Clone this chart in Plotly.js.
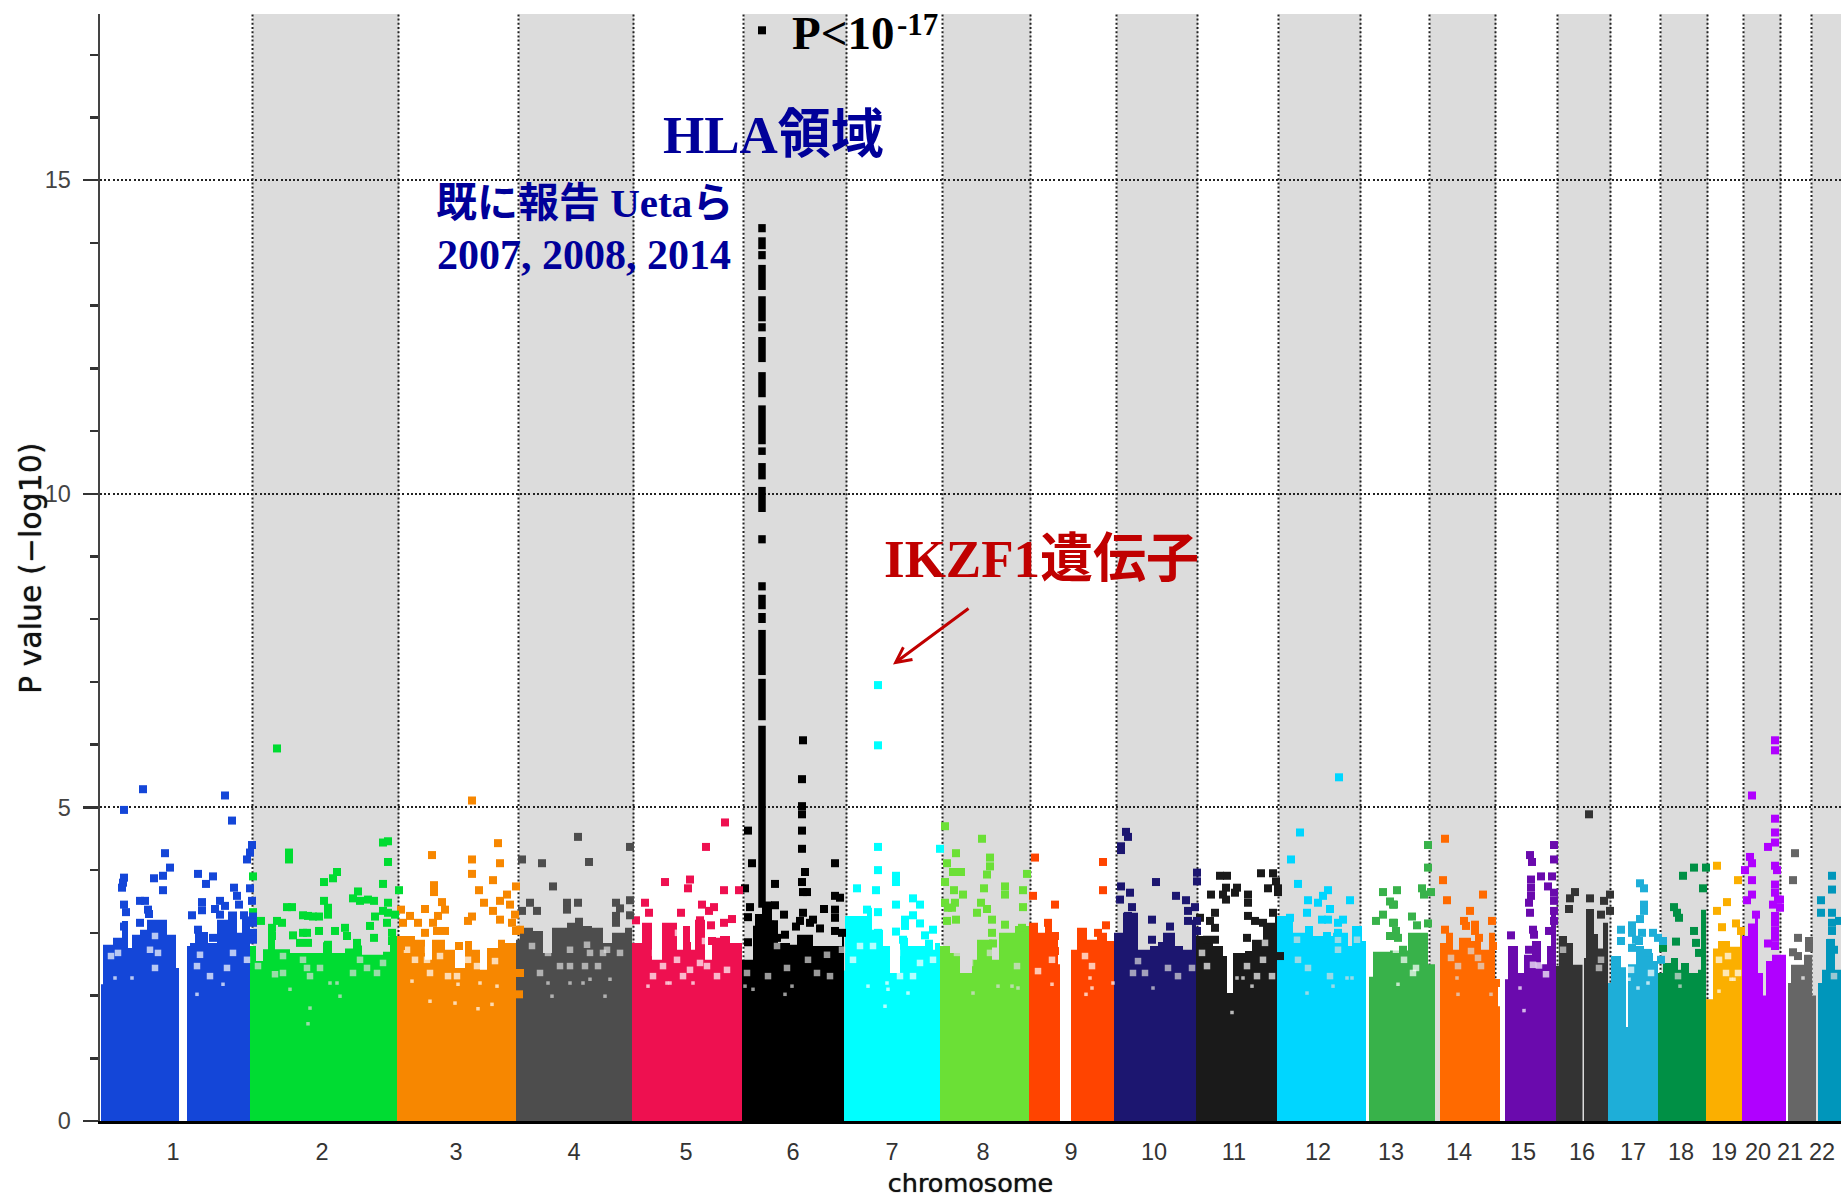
<!DOCTYPE html>
<html><head><meta charset="utf-8">
<script src="https://cdn.plot.ly/plotly-3.0.1.min.js"></script>
<style>html,body{margin:0;padding:0;background:#fff}#chart{width:1841px;height:1198px}</style>
</head><body><div id="chart"></div>
<script>
const chrLabels=['1','2','3','4','5','6','7','8','9','10','11','12','13','14','15','16','17','18','19','20','21','22'];
const chrLabelPos=[73,222,356,474,586,693,792,883,971,1054,1134,1218,1291,1359,1423,1482,1533,1581,1624,1658,1690,1722];
const chrColors=['#1446d8','#00dc32','#f78700','#4d4d4d','#ee1050','#000000','#00ffff','#6be036','#ff4400','#1c1670','#1a1a1a','#00d6ff','#38b24a','#ff6a00','#6a0aad','#333333','#1eaed8','#009045','#fbaf00','#b000ff','#666666','#0096bb'];
const bandStart=[153,419,644,843,1017,1179,1330,1458,1561,1644,1712];
const bandEnd=[299,534,747,931,1098,1261,1396,1511,1608,1681,1741];

const chr1_sky=[[1,2.18],[3,2.81],[13,2.92],[22,3.19],[28,2.76],[32,2.97],[40,3.05],[47,3.21],[67,2.97],[76,2.44],[79,0],[87,2.79],[90,2.84],[95,3.11],[102,3.0],[108,2.84],[117,3.21],[128,3.34],[137,3.0],[142,3.26],[150,3.26]];
const chr1_holes=[[11,2.63],[18,2.68],[15,2.28],[32,2.28],[55,2.95],[50,2.73],[58,2.68],[55,2.44],[97,2.47],[100,2.65],[110,2.31],[123,2.18],[127,2.44],[133,2.68],[97,2.02],[147,2.57]];
const chr1_pts=[[24,4.96],[43,5.29],[125,5.19],[132,4.79],[65,4.27],[70,4.04],[63,3.91],[54,3.87],[63,3.68],[24,3.88],[23,3.80],[22,3.72],[24,3.45],[26,3.33],[40,3.51],[45,3.51],[48,3.37],[49,3.30],[40,3.16],[98,3.94],[106,3.78],[113,3.90],[92,3.28],[102,3.49],[102,3.36],[120,3.51],[115,3.38],[125,3.43],[120,3.29],[134,3.72],[137,3.59],[139,3.45],[152,4.40],[150,4.28],[147,4.17],[150,3.71],[152,3.51],[144,3.28],[24,3.10],[113,2.92],[98,3.05],[104,2.95],[153,3.26],[153,3.16],[153,3.0],[153,2.89]];

const chr2_sky=[[150,2.79],[156,2.55],[163,2.74],[168,3.1],[175,2.74],[190,2.68],[223,2.85],[232,2.68],[245,2.75],[253,2.8],[262,2.65],[283,2.7],[290,2.95],[297,2.95]];
const chr2_holes=[[175,2.34],[183,2.36],[190,2.10],[207,2.44],[210,2.31],[210,1.80],[208,1.55],[220,2.44],[237,2.2],[253,2.36],[267,2.44],[277,2.36],[283,2.52],[158,2.47],[203,2.57],[260,2.57],[183,2.63],[230,2.2],[240,1.99]];
const chr2_pts=[[177,5.94],[189,4.28],[189,4.17],[153,3.90],[224,3.81],[233,3.87],[237,3.97],[283,4.44],[288,4.46],[288,4.13],[283,3.78],[299,3.68],[153,3.33],[161,3.19],[187,3.41],[192,3.41],[203,3.28],[208,3.27],[213,3.26],[219,3.26],[224,3.51],[228,3.40],[228,3.29],[258,3.66],[253,3.55],[260,3.51],[268,3.53],[274,3.51],[288,3.48],[283,3.35],[288,3.32],[295,3.29],[275,3.26],[270,3.11],[287,3.16],[177,3.19],[182,3.16],[172,3.08],[172,2.95],[193,2.96],[203,3.0],[207,3.0],[219,3.03],[235,3.03],[245,3.08],[247,2.95],[274,2.92],[292,3.0],[292,2.87],[200,2.84],[208,2.84],[228,2.81],[257,2.84]];

const chr3_sky=[[297,2.95],[315,2.89],[325,2.57],[332,2.89],[345,2.73],[355,2.44],[365,2.87],[372,2.73],[380,2.41],[387,2.76],[398,2.89],[405,2.84],[416,2.84]];
const chr3_holes=[[328,2.73],[327,2.57],[312,2.23],[330,2.36],[330,1.91],[340,2.63],[348,2.31],[357,2.31],[358,2.18],[355,1.88],[377,2.47],[380,2.2],[395,2.55],[397,2.15],[307,2.73],[315,2.57],[368,2.57],[392,1.86],[378,1.79]];
const chr3_pts=[[372,5.11],[332,4.24],[398,4.43],[372,4.17],[400,4.11],[372,3.94],[393,3.84],[334,3.76],[334,3.65],[379,3.68],[416,3.74],[407,3.61],[400,3.51],[410,3.45],[342,3.49],[345,3.37],[384,3.48],[325,3.38],[393,3.35],[301,3.37],[310,3.27],[303,3.16],[318,3.16],[338,3.27],[333,3.16],[337,3.03],[345,3.03],[325,3.0],[372,3.26],[368,3.19],[400,3.21],[415,3.29],[412,3.16],[416,3.03],[359,2.79],[420,3.05],[420,2.36],[419,2.02],[301,2.79]];

const chr4_sky=[[416,2.89],[420,3.08],[433,3.03],[443,2.68],[452,3.08],[467,3.16],[475,3.24],[483,3.11],[492,3.08],[503,2.84],[512,3.0],[525,3.08],[532,3.08]];
const chr4_holes=[[448,2.68],[448,2.2],[452,1.99],[470,2.2],[470,2.73],[470,2.47],[487,2.81],[490,2.68],[490,2.26],[503,2.68],[510,2.26],[505,1.99],[507,2.73],[485,2.47],[432,2.79],[440,2.36],[460,2.47],[483,2.2],[498,2.47],[520,2.68]];
const chr4_pts=[[478,4.53],[530,4.37],[422,4.17],[442,4.11],[489,4.13],[453,3.74],[430,3.48],[437,3.35],[422,3.35],[467,3.48],[467,3.37],[478,3.48],[516,3.48],[520,3.39],[530,3.52],[516,3.27],[516,3.16],[530,3.28]];

const chr5_sky=[[532,2.84],[542,3.16],[552,2.57],[562,3.16],[577,2.73],[583,3.11],[590,2.73],[595,3.21],[605,2.57],[612,2.92],[620,2.95],[630,2.84],[642,2.84]];
const chr5_holes=[[555,2.68],[553,2.31],[563,2.47],[567,2.2],[577,2.57],[583,2.31],[590,2.41],[600,2.52],[617,2.31],[627,2.41],[570,2.2],[548,2.15],[593,2.2],[607,2.47],[578,3.0],[558,2.79],[605,2.87]];
const chr5_pts=[[625,4.76],[606,4.37],[565,3.81],[590,3.85],[588,3.71],[624,3.68],[639,3.68],[545,3.48],[549,3.32],[581,3.32],[602,3.45],[614,3.41],[609,3.35],[536,3.2],[632,3.22],[624,3.16],[611,3.12],[600,3.2],[612,2.87],[587,2.79]];

const chr6_sky=[[642,2.57],[653,3.05],[655,3.3],[662,3.5],[672,3.2],[678,2.84],[690,2.81],[697,2.97],[713,2.79],[742,3.0],[744,3.0]];
const chr6_holes=[[648,2.68],[647,2.36],[668,2.31],[687,2.44],[692,2.15],[685,2.02],[708,2.57],[730,2.31],[677,2.79],[645,2.15],[653,2.1],[717,2.36],[727,2.65],[742,2.73]];
const chr6_pts=[[662,17.39],[703,6.07],[702,5.45],[702,5.02],[702,4.89],[702,4.63],[702,4.34],[648,4.63],[652,4.11],[735,4.11],[705,3.97],[675,3.78],[702,3.81],[645,3.71],[703,3.65],[707,3.65],[735,3.59],[740,3.56],[650,3.41],[675,3.44],[724,3.38],[735,3.37],[735,3.24],[684,3.29],[703,3.32],[700,3.19],[713,3.21],[710,3.16],[720,3.07],[696,3.1],[648,3.25],[657,3.05],[670,3.13],[735,3.03],[742,3.0],[648,2.85],[677,2.92],[685,2.97]];
const hlaPos=662;
const hlaHigh=[14.30,14.09,13.87,13.65,13.15,12.72,12.50,11.94,11.41,10.74,10.49,10.11,9.34,8.59,8.39,8.10,7.83,7.05,6.30];
const hlaLow=[14.17,13.90,13.74,13.25,12.75,12.59,12.10,11.54,10.79,10.62,10.23,9.71,9.21,8.46,8.16,7.94,7.11,6.39,3.40];

const chr7_sky=[[744,2.4],[745,3.27],[767,3.4],[772,3.05],[783,2.79],[790,2.36],[800,2.92],[808,2.79],[825,2.89],[833,2.73],[835,2.84],[840,2.84]];
const chr7_holes=[[753,2.57],[768,2.15],[787,2.2],[785,1.83],[808,2.04],[788,2.1],[760,2.79],[773,2.79],[813,2.31],[797,2.68],[820,2.52],[800,2.31],[833,2.57]];
const chr7_pts=[[778,6.95],[778,5.99],[778,4.37],[840,4.34],[778,4.0],[757,3.71],[776,3.68],[796,3.91],[796,3.81],[796,3.45],[813,3.55],[820,3.45],[813,3.28],[778,3.33],[767,3.37],[820,3.15],[805,3.21],[805,3.11],[833,3.05],[825,2.96],[796,3.02],[803,2.89],[805,2.68],[778,3.0]];

const chr8_sky=[[840,2.79],[850,2.68],[860,2.36],[872,2.57],[877,2.89],[892,2.57],[899,3.0],[915,3.11],[929,3.11]];
const chr8_holes=[[873,2.04],[898,2.15],[917,2.47],[912,2.15],[918,2.12],[870,2.52],[890,2.68],[857,2.68]];
const chr8_pts=[[882,4.50],[856,4.27],[890,4.20],[890,4.06],[887,3.93],[853,3.97],[861,3.97],[927,3.94],[854,3.68],[863,3.61],[884,3.71],[905,3.74],[905,3.61],[923,3.68],[923,3.41],[855,3.48],[852,3.40],[881,3.48],[877,3.32],[887,3.38],[892,3.21],[856,3.21],[905,3.13],[892,3.0],[893,2.83],[922,3.08],[905,2.79],[845,4.70],[847,4.11],[845,3.81],[845,3.48],[848,3.40],[847,3.19]];

const chr9_sky=[[929,3.16],[938,3.0],[945,3.21],[952,3.0],[958,2.5],[960,0],[971,2.73],[977,3.08],[987,2.89],[997,3.0],[1007,2.87],[1014,2.87]];
const chr9_holes=[[985,2.63],[992,2.47],[990,2.28],[992,2.12],[986,2.02],[1013,2.2],[938,2.39],[952,2.18],[952,2.57]];
const chr9_pts=[[935,4.20],[1003,4.13],[1003,3.68],[933,3.59],[955,3.45],[948,3.16],[1006,3.12],[955,2.95],[955,2.71],[998,3.0]];

const chr10_sky=[[1014,3.0],[1023,3.32],[1038,2.73],[1050,2.79],[1063,3.0],[1075,2.79],[1083,2.73],[1092,3.21],[1096,3.21]];
const chr10_holes=[[1038,2.55],[1033,2.36],[1045,2.36],[1053,2.12],[1068,2.44],[1078,2.31],[1092,2.44]];
const chr10_pts=[[1026,4.61],[1028,4.53],[1021,4.38],[1021,4.32],[1056,3.81],[1097,3.96],[1097,3.82],[1021,3.74],[1030,3.64],[1020,3.53],[1076,3.59],[1086,3.52],[1088,3.35],[1095,3.41],[1032,3.41],[1028,3.27],[1052,3.21],[1088,3.19],[1097,3.19],[1097,3.03],[1070,3.10],[1052,2.89],[1062,2.79]];

const chr11_sky=[[1096,2.95],[1113,2.79],[1123,2.63],[1127,2.04],[1133,2.68],[1145,2.71],[1152,2.89],[1163,3.16],[1175,3.27],[1177,3.27]];
const chr11_holes=[[1102,2.68],[1107,2.47],[1147,2.47],[1143,2.28],[1152,2.15],[1157,2.31],[1172,2.31],[1137,2.28],[1132,1.73],[1165,2.84],[1157,3.05],[1163,2.57]];
const chr11_pts=[[1120,3.91],[1127,3.91],[1161,3.95],[1173,3.95],[1176,3.82],[1168,3.71],[1178,3.71],[1178,3.65],[1111,3.61],[1126,3.72],[1123,3.61],[1126,3.53],[1137,3.72],[1135,3.64],[1148,3.61],[1148,3.48],[1115,3.32],[1110,3.19],[1115,3.08],[1100,3.24],[1173,3.32],[1148,3.27],[1155,3.19],[1163,3.16],[1147,2.92],[1107,2.89],[1115,2.89],[1180,2.63]];

const chr12_sky=[[1177,3.27],[1193,3.0],[1205,3.11],[1213,2.95],[1233,3.0],[1248,2.79],[1252,3.11],[1262,2.87],[1266,2.87]];
const chr12_holes=[[1198,2.57],[1208,2.44],[1207,2.04],[1230,2.31],[1233,2.15],[1247,2.28],[1252,2.28],[1217,3.03],[1238,2.89],[1238,2.73],[1257,2.89],[1197,2.89]];
const chr12_pts=[[1239,5.48],[1200,4.60],[1191,4.17],[1198,3.78],[1228,3.68],[1223,3.59],[1218,3.48],[1208,3.52],[1250,3.52],[1230,3.38],[1207,3.32],[1222,3.21],[1228,3.21],[1243,3.21],[1238,3.16],[1190,3.24],[1238,3.0],[1227,2.95]];

const chr13_sky=[[1269,2.3],[1273,2.7],[1290,2.72],[1308,3.0],[1328,2.5],[1335,2.5]];
const chr13_holes=[[1298,2.18],[1304,2.57],[1313,2.36],[1316,2.44],[1296,2.73]];
const chr13_pts=[[1328,4.40],[1328,4.04],[1297,3.68],[1322,3.71],[1324,3.61],[1331,3.65],[1294,3.45],[1312,3.26],[1317,3.12],[1328,3.15],[1294,3.16],[1296,3.03],[1298,2.92],[1283,3.65],[1290,3.5],[1293,3.45],[1283,3.29],[1276,3.19],[1293,3.16],[1290,2.95],[1303,2.73]];

const chr14_sky=[[1340,2.84],[1346,3.0],[1353,2.73],[1359,2.92],[1371,2.87],[1381,2.73],[1389,3.0],[1395,2.26],[1398,1.83],[1400,1.83]];
const chr14_holes=[[1357,2.28],[1358,2.02],[1391,2.02],[1371,2.71],[1378,2.6],[1351,2.6],[1358,2.47],[1381,2.47]];
const chr14_pts=[[1345,4.50],[1343,3.84],[1347,3.52],[1383,3.61],[1370,3.35],[1364,3.19],[1366,3.11],[1375,3.13],[1375,3.03],[1379,2.92],[1392,3.19],[1345,3.05],[1393,2.79],[1396,2.2]];

const chr15_sky=[[1405,2.26],[1408,2.79],[1418,2.36],[1424,2.65],[1432,2.87],[1441,2.5],[1447,2.79],[1451,3.3],[1456,3.3]];
const chr15_holes=[[1433,2.49],[1439,2.48],[1446,2.34],[1424,1.76],[1420,2.12]];
const chr15_pts=[[1454,4.40],[1454,4.17],[1430,4.24],[1432,4.13],[1441,3.90],[1452,3.90],[1431,3.85],[1431,3.72],[1431,3.59],[1429,3.48],[1430,3.32],[1448,3.74],[1454,3.64],[1454,3.51],[1433,3.05],[1434,2.97],[1449,3.03],[1411,2.96],[1429,2.73],[1454,3.19],[1454,3.35]];

const chr16_sky=[[1456,2.47],[1459,2.95],[1467,2.84],[1473,2.49],[1482.5,0],[1484,2.6],[1486,3.38],[1494,2.98],[1498,2.75],[1503,3.16],[1508,3.16]];
const chr16_holes=[[1463,2.73],[1499,2.44],[1501,2.57]];
const chr16_pts=[[1489,4.89],[1475,3.65],[1470,3.55],[1469,3.38],[1490,3.55],[1510,3.61],[1504,3.51],[1510,3.35],[1501,3.29]];

const chr17_sky=[[1508,2.2],[1511,2.63],[1521,2.45],[1526,1.5],[1528,2.5],[1536,2.79],[1544,2.68],[1553,2.55],[1558,2.55]];
const chr17_holes=[[1529,2.26],[1548,2.2],[1538,2.12],[1551,2.36],[1531,2.41]];
const chr17_pts=[[1521,3.05],[1521,2.87],[1540,3.79],[1544,3.71],[1544,3.45],[1544,3.35],[1540,3.22],[1532,3.12],[1532,3.0],[1536,2.89],[1532,2.76],[1542,3.0],[1553,3.0],[1558,2.92],[1563,2.87],[1539,2.87],[1548,2.68],[1561,2.57]];

const chr18_sky=[[1558,2.36],[1563,2.52],[1571,2.6],[1578,2.41],[1581,2.52],[1589,2.36],[1598,2.41],[1601,3.37],[1606,3.37]];
const chr18_holes=[[1578,2.31],[1580,2.15]];
const chr18_pts=[[1594,4.04],[1606,4.04],[1583,3.91],[1603,3.71],[1574,3.41],[1577,3.32],[1579,3.24],[1576,2.86],[1594,3.03],[1596,2.84],[1599,2.68],[1563,2.76]];

const chr19_sky=[[1606,1.94],[1613,2.75],[1618,2.87],[1630,2.78],[1640,3.05],[1642,3.05]];
const chr19_holes=[[1619,2.57],[1626,2.36],[1628,2.63],[1631,2.26],[1638,2.36],[1619,2.07],[1634,2.26]];
const chr19_pts=[[1617,4.07],[1638,3.84],[1627,3.49],[1617,3.35],[1622,3.09],[1636,3.15],[1641,3.03]];

const chr20_sky=[[1642,2.95],[1648,3.15],[1655,3.3],[1658,2.36],[1663,2.0],[1666,2.55],[1672,2.65],[1680,2.65],[1686,2.65]];
const chr20_holes=[];
const chr20_pts=[[1675,6.07],[1675,5.91],[1652,5.19],[1675,4.82],[1675,4.60],[1675,4.44],[1668,4.37],[1650,4.21],[1652,4.11],[1645,4.0],[1675,4.07],[1677,4.0],[1652,3.84],[1652,3.61],[1647,3.52],[1675,3.77],[1675,3.64],[1678,3.53],[1680,3.53],[1680,3.40],[1673,3.45],[1675,3.27],[1675,3.16],[1675,3.03],[1675,2.92],[1668,2.83],[1675,2.79],[1656,3.29]];

const chr21_sky=[[1688,2.2],[1691,2.49],[1704,2.65],[1712,2.0],[1716,2.0]];
const chr21_holes=[[1703,2.28]];
const chr21_pts=[[1695,4.27],[1693,3.84],[1698,2.92],[1693,2.69],[1698,2.63],[1709,2.87],[1709,2.76]];

const chr22_sky=[[1718,2.2],[1722,2.41],[1726,2.9],[1735,2.41],[1741,2.41]];
const chr22_holes=[[1734,2.31]];
const chr22_pts=[[1732,3.91],[1732,3.69],[1721,3.52],[1721,3.32],[1732,3.32],[1739,3.19],[1732,3.16],[1732,3.03],[1731,2.84],[1734,2.73]];

const allSky=[chr1_sky,chr2_sky,chr3_sky,chr4_sky,chr5_sky,chr6_sky,chr7_sky,chr8_sky,chr9_sky,chr10_sky,chr11_sky,chr12_sky,chr13_sky,chr14_sky,chr15_sky,chr16_sky,chr17_sky,chr18_sky,chr19_sky,chr20_sky,chr21_sky,chr22_sky];
const allHoles=[chr1_holes,chr2_holes,chr3_holes,chr4_holes,chr5_holes,chr6_holes,chr7_holes,chr8_holes,chr9_holes,chr10_holes,chr11_holes,chr12_holes,chr13_holes,chr14_holes,chr15_holes,chr16_holes,chr17_holes,chr18_holes,chr19_holes,chr20_holes,chr21_holes,chr22_holes];
const allPts=[chr1_pts,chr2_pts,chr3_pts,chr4_pts,chr5_pts,chr6_pts,chr7_pts,chr8_pts,chr9_pts,chr10_pts,chr11_pts,chr12_pts,chr13_pts,chr14_pts,chr15_pts,chr16_pts,chr17_pts,chr18_pts,chr19_pts,chr20_pts,chr21_pts,chr22_pts];

const traces=[];
for(let i=21;i>=0;i--){
  const c=chrColors[i];
  traces.push({type:'scatter',mode:'lines',x:allSky[i].map(p=>p[0]),y:allSky[i].map(p=>p[1]),fill:'tozeroy',fillcolor:c,line:{shape:'hv',width:0,color:c},hoverinfo:'skip',showlegend:false,name:'chr'+chrLabels[i]});
  if(allHoles[i].length)traces.push({type:'scatter',mode:'markers',x:allHoles[i].map(p=>p[0]),y:allHoles[i].map(p=>p[1]),marker:{symbol:'square',size:allHoles[i].map(p=>p[1]<2.3?3.5:6.5),color:(i%2===1)?'#dcdcdc':'#ffffff',line:{width:0}},hoverinfo:'skip',showlegend:false});
  traces.push({type:'scatter',mode:'markers',x:allPts[i].map(p=>p[0]),y:allPts[i].map(p=>p[1]),marker:{symbol:'square',size:8,color:c,line:{width:0}},hoverinfo:'skip',showlegend:false,name:'chr'+chrLabels[i]});
  if(i===5){
    const hx=[],hy=[];
    hlaHigh.forEach((h,k)=>{hx.push(hlaPos,hlaPos,null);hy.push(h,hlaLow[k],null);});
    traces.push({type:'scatter',mode:'lines',x:hx,y:hy,line:{color:c,width:7.5},hoverinfo:'skip',showlegend:false,name:'HLA'});
  }
}

const shapes=[];
bandStart.forEach((s,k)=>{
  shapes.push({type:'rect',layer:'below',xref:'x',yref:'y',x0:s,x1:bandEnd[k],y0:0,y1:17.65,fillcolor:'#dcdcdc',line:{width:0}});
});
bandStart.concat(bandEnd).filter(v=>v<1741).forEach(v=>{
  shapes.push({type:'line',layer:'between',xref:'x',yref:'y',x0:v-0.5,x1:v-0.5,y0:0,y1:17.65,line:{color:'#222',width:2,dash:'2px,2.2px'}});
});

const serif="'Liberation Serif','Noto Sans CJK JP',serif";
function note(text,x,y,size,color){return {text:text,x:x,y:y,xref:'x',yref:'y',showarrow:false,xanchor:'center',yanchor:'middle',font:{family:serif,size:size,color:color,weight:700}};}
const annotations=[
  note('P&lt;10',743,17.34,47,'#000'),
  note('-17',817,17.49,31,'#000'),
  note('HLA領域',673,15.72,53,'#000099'),
  note('既に報告 Uetaら',484,14.63,41,'#000099'),
  note('2007, 2008, 2014',484,13.8,42,'#000099'),
  note('IKZF1遺伝子',941,8.96,53,'#c00000'),
  {x:793,y:7.28,ax:870,ay:8.19,xref:'x',yref:'y',axref:'x',ayref:'y',text:'',showarrow:true,arrowhead:5,arrowsize:1,arrowwidth:3,arrowcolor:'#c00000'},
  {text:'P value (−log10)',xref:'paper',yref:'paper',x:-70/1741,y:0.4995,xanchor:'center',yanchor:'middle',textangle:-90,showarrow:false,font:{family:"'DejaVu Sans',sans-serif",size:30,color:'#111',shadow:'0 0 1px #333'}}
];

const layout={
  width:1841,height:1198,margin:{l:100,r:0,t:14,b:77},
  paper_bgcolor:'#fff',plot_bgcolor:'#fff',showlegend:false,hovermode:false,
  xaxis:{range:[0,1741],tickmode:'array',tickvals:chrLabelPos,ticktext:chrLabels,ticks:'',showgrid:false,zeroline:false,showline:true,linecolor:'#000',linewidth:2.5,
    tickfont:{family:"'Liberation Sans',sans-serif",size:23.5,color:'#333'},tickangle:0,ticklabelstandoff:8,
    title:{text:'chromosome',standoff:18,font:{family:"'DejaVu Sans',sans-serif",size:25.5,color:'#111',shadow:'0 0 1px #333'}}},
  yaxis:{range:[0,17.65],tickmode:'array',tickvals:[0,5,10,15],ticktext:['0','5','10','15'],ticks:'outside',ticklen:15,tickwidth:2.5,tickcolor:'#333',
    showgrid:true,gridcolor:'#222',griddash:'2px,2.2px',gridwidth:2,zeroline:false,showline:true,linecolor:'#444',linewidth:2.5,
    minor:{tickmode:'array',tickvals:[1,2,3,4,6,7,8,9,11,12,13,14,16,17],ticks:'outside',ticklen:8,tickwidth:2.5,tickcolor:'#333',showgrid:false},
    tickfont:{family:"'Liberation Sans',sans-serif",size:23.5,color:'#444'},ticklabelstandoff:7},
  shapes:shapes,annotations:annotations
};
Plotly.newPlot('chart',traces,layout,{displayModeBar:false,staticPlot:true});
</script></body></html>
